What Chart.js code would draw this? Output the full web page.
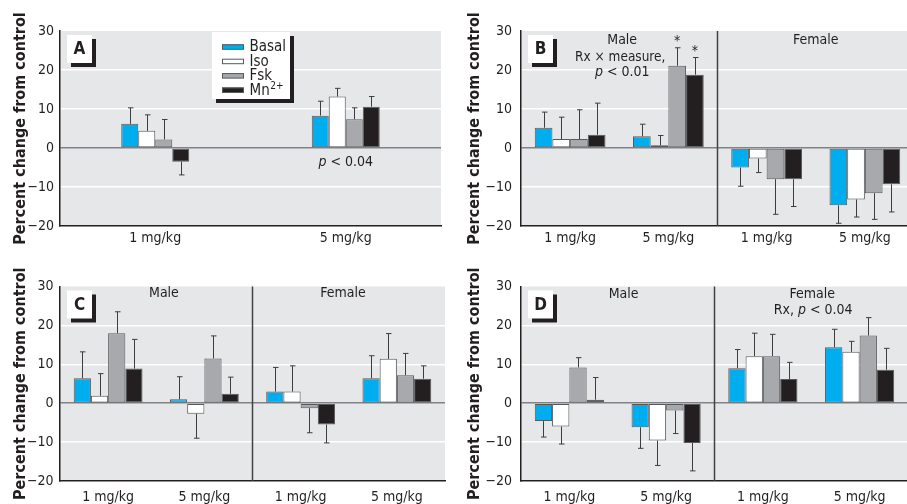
<!DOCTYPE html>
<html>
<head>
<meta charset="utf-8">
<script src="https://cdn.jsdelivr.net/npm/chart.js@4.4.1/dist/chart.umd.min.js"></script>
<style>
  html, body { margin: 0; padding: 0; background: #ffffff; overflow: hidden; width: 907px; height: 504px; }
  .panel { position: absolute; }
</style>
</head>
<body>
<div class="panel" style="left:0px;top:0px;"><canvas id="cA" width="454" height="252"></canvas></div>
<div class="panel" style="left:454px;top:0px;"><canvas id="cB" width="462" height="252"></canvas></div>
<div class="panel" style="left:0px;top:252px;"><canvas id="cC" width="454" height="252"></canvas></div>
<div class="panel" style="left:454px;top:252px;"><canvas id="cD" width="456" height="252"></canvas></div>
<script>
// ---------------- data ----------------
const SERIES = ['Basal', 'Iso', 'Fsk', 'Mn'];
const SERIES_SUP = ['', '', '', '2+'];
const DOSES = ['1 mg/kg', '5 mg/kg'];
const SEX_DOSES = ['1 mg/kg', '5 mg/kg', '1 mg/kg', '5 mg/kg'];
const Y_MIN = -20;
const Y_MAX = 30;
const Y_STEP = 10;
const Y_TITLE = 'Percent change from control';

// Panel A (1 mg/kg, 5 mg/kg)
const A_BASAL = [6.2, 8.3];
const A_ISO = [4.4, 13.2];
const A_FSK = [2.2, 7.4];
const A_MN = [-3.5, 10.6];
const A_BASAL_SEM = [4.1, 3.7];
const A_ISO_SEM = [4.1, 2.1];
const A_FSK_SEM = [5.1, 2.9];
const A_MN_SEM = [3.4, 2.6];

// Panel B (male 1, male 5, female 1, female 5)
const B_BASAL = [5.2, 3.0, -5.0, -14.7];
const B_ISO = [2.3, 0.7, -2.7, -13.2];
const B_FSK = [2.3, 21.1, -8.0, -11.6];
const B_MN = [3.4, 18.8, -8.0, -9.3];
const B_BASAL_SEM = [4.0, 3.1, 4.8, 4.6];
const B_ISO_SEM = [5.6, 2.5, 3.6, 4.5];
const B_FSK_SEM = [7.5, 4.6, 9.0, 6.7];
const B_MN_SEM = [8.1, 4.4, 7.0, 7.1];

// Panel C
const C_BASAL = [6.4, 1.0, 3.0, 6.4];
const C_ISO = [1.9, -2.7, 3.0, 11.4];
const C_FSK = [18.0, 11.5, -1.3, 7.2];
const C_MN = [8.9, 2.4, -5.5, 6.3];
const C_BASAL_SEM = [6.8, 5.8, 6.2, 5.8];
const C_ISO_SEM = [5.7, 6.3, 6.6, 6.5];
const C_FSK_SEM = [5.5, 5.8, 6.3, 5.6];
const C_MN_SEM = [7.5, 4.3, 4.7, 3.3];

// Panel D
const D_BASAL = [-4.6, -6.2, 9.0, 14.4];
const D_ISO = [-6.0, -9.6, 12.1, 13.2];
const D_FSK = [9.2, -1.9, 12.1, 17.4];
const D_MN = [0.9, -10.2, 6.2, 8.6];
const D_BASAL_SEM = [4.1, 5.4, 4.8, 4.6];
const D_ISO_SEM = [4.5, 6.4, 5.9, 2.7];
const D_FSK_SEM = [2.5, 5.9, 5.6, 4.6];
const D_MN_SEM = [5.7, 7.2, 4.3, 5.5];

// ---------------- styling ----------------
const FONT = "'DejaVu Sans Condensed', 'Liberation Sans Narrow', 'Arial Narrow', sans-serif";
const INK = '#231f20';
const FILL = ['#00aeef', '#ffffff', '#a7a9ac', '#231f20'];
const EDGE = '#58595b';
const BG = '#e6e7e8';

function drawRuns(ctx, runs, cx, cy, size) {
  ctx.save();
  ctx.textBaseline = 'middle';
  ctx.textAlign = 'left';
  ctx.fillStyle = INK;
  let total = 0;
  const widths = runs.map(r => {
    ctx.font = (r.i ? 'italic ' : '') + size + 'px ' + FONT;
    const w = ctx.measureText(r.t).width;
    total += w;
    return w;
  });
  let x = cx - total / 2;
  runs.forEach((r, k) => {
    ctx.font = (r.i ? 'italic ' : '') + size + 'px ' + FONT;
    ctx.fillText(r.t, x, cy);
    x += widths[k];
  });
  ctx.restore();
}

function shadowBox(ctx, x, y, w, h) {
  ctx.fillStyle = INK;
  ctx.fillRect(x + 4, y + 4, w, h);
  ctx.fillStyle = '#ffffff';
  ctx.fillRect(x, y, w, h);
}

const decor = {
  id: 'decor',
  beforeDraw(chart) {
    const {ctx, chartArea: a} = chart;
    ctx.save();
    ctx.fillStyle = BG;
    ctx.fillRect(a.left, a.top, a.right - a.left, a.bottom - a.top);
    ctx.restore();
  },
  afterDatasetsDraw(chart) {
    const {ctx} = chart;
    const ys = chart.scales.y;
    ctx.save();
    ctx.strokeStyle = '#3d3d3d';
    ctx.lineWidth = 1;
    chart.data.datasets.forEach((ds, i) => {
      const meta = chart.getDatasetMeta(i);
      meta.data.forEach((bar, j) => {
        const v = ds.data[j];
        const e = ds.sem[j];
        const tip = v >= 0 ? v + e : v - e;
        const yTip = ys.getPixelForValue(tip);
        const x = Math.round(bar.x) + 0.5;
        ctx.beginPath();
        ctx.moveTo(x, bar.y);
        ctx.lineTo(x, yTip);
        ctx.moveTo(x - 2.5, yTip);
        ctx.lineTo(x + 3, yTip);
        ctx.stroke();
      });
    });
    ctx.restore();
  },
  afterDraw(chart, args, o) {
    const {ctx, chartArea: a} = chart;
    const xs = chart.scales.x, ys = chart.scales.y;
    ctx.save();
    if (o.divider) {
      const dx = xs.getPixelForValue(1.5);
      ctx.strokeStyle = '#414042';
      ctx.lineWidth = 1.5;
      ctx.beginPath();
      ctx.moveTo(dx, a.top);
      ctx.lineTo(dx, a.bottom);
      ctx.stroke();
    }
    // panel letter
    const lx = a.left + 7, ly = a.top + 4;
    shadowBox(ctx, lx, ly, 25, 28);
    ctx.fillStyle = INK;
    ctx.font = 'bold 17px ' + FONT;
    ctx.textAlign = 'center';
    ctx.textBaseline = 'middle';
    ctx.fillText(o.letter, lx + 12.5, ly + 15);
    // legend
    if (o.legend) {
      const bx = a.left + 152, by = a.top + 1;
      shadowBox(ctx, bx, by, 78, 67);
      chart.data.datasets.forEach((ds, i) => {
        const base = by + 19.3 + 14.4 * i;
        ctx.fillStyle = FILL[i];
        ctx.fillRect(bx + 10, base - 7, 21.5, 5);
        ctx.strokeStyle = EDGE;
        ctx.lineWidth = 1;
        ctx.strokeRect(bx + 10.5, base - 6.5, 21, 4.5);
        ctx.fillStyle = INK;
        ctx.textAlign = 'left';
        ctx.textBaseline = 'alphabetic';
        ctx.font = '15px ' + FONT;
        ctx.fillText(SERIES[i], bx + 37.5, base);
        if (SERIES_SUP[i]) {
          const w = ctx.measureText(SERIES[i]).width;
          ctx.font = '10px ' + FONT;
          ctx.fillText(SERIES_SUP[i], bx + 37.5 + w + 0.5, base - 5.5);
        }
      });
    }
    // text annotations anchored to data coordinates
    (o.texts || []).forEach(t => {
      drawRuns(ctx, t.runs, xs.getPixelForValue(t.x), ys.getPixelForValue(t.y), t.size || 14);
    });
    // significance stars
    (o.stars || []).forEach(s => {
      const ds = chart.data.datasets[s[0]];
      const bar = chart.getDatasetMeta(s[0]).data[s[1]];
      const tip = ds.data[s[1]] + ds.sem[s[1]];
      ctx.fillStyle = INK;
      ctx.font = '14px ' + FONT;
      ctx.textAlign = 'center';
      ctx.textBaseline = 'middle';
      ctx.fillText('*', bar.x, ys.getPixelForValue(tip) - 6);
    });
    ctx.restore();
  }
};

function buildChart(id, labels, series, sems, cfg, decorOpts) {
  const datasets = series.map((vals, k) => ({
    label: SERIES[k] + SERIES_SUP[k],
    data: vals,
    sem: sems[k],
    backgroundColor: FILL[k],
    borderColor: EDGE,
    borderWidth: 1,
    borderSkipped: false,
    categoryPercentage: cfg.catPct,
    barPercentage: 1.0
  }));
  return new Chart(document.getElementById(id), {
    type: 'bar',
    data: {labels: labels, datasets: datasets},
    options: {
      responsive: false,
      animation: false,
      devicePixelRatio: 1,
      layout: {padding: {left: 0, top: cfg.top, right: cfg.padRight, bottom: 0}},
      plugins: {
        legend: {display: false},
        tooltip: {enabled: false},
        decor: decorOpts
      },
      scales: {
        x: {
          grid: {display: false, drawTicks: false},
          border: {display: true, color: INK, width: 1.5},
          ticks: {color: INK, font: {family: FONT, size: 14}, padding: cfg.xPad, maxRotation: 0, autoSkip: false},
          afterFit(s) { s.height = cfg.xH; }
        },
        y: {
          min: Y_MIN,
          max: Y_MAX,
          ticks: {
            stepSize: Y_STEP,
            color: INK,
            font: {family: FONT, size: 14},
            padding: cfg.yPad,
            callback: v => (v < 0 ? '\u2212' + Math.abs(v) : String(v))
          },
          grid: {
            drawTicks: false,
            lineWidth: 1.5,
            color: c => {
              const v = c.tick ? c.tick.value : null;
              if (v === 0) return '#808285';
              if (v === Y_MAX || v === Y_MIN) return 'rgba(0,0,0,0)';
              return '#ffffff';
            }
          },
          border: {display: true, color: INK, width: 1.5},
          title: {
            display: true,
            text: Y_TITLE,
            color: INK,
            font: {family: FONT, size: 16, weight: 'bold'},
            padding: {top: 11.5, bottom: 0}
          },
          afterFit(s) { s.width = cfg.left; }
        }
      }
    },
    plugins: [decor]
  });
}

const P = (t) => [{t: t}];
const PV = (rest) => [{t: 'p', i: true}, {t: rest}];

buildChart('cA', DOSES,
  [A_BASAL, A_ISO, A_FSK, A_MN],
  [A_BASAL_SEM, A_ISO_SEM, A_FSK_SEM, A_MN_SEM],
  {catPct: 0.357, top: 31, padRight: 13, left: 60, xH: 26, xPad: 4, yPad: 6},
  {letter: 'A', legend: true, divider: false,
   texts: [{x: 1, y: -3.6, runs: PV(' < 0.04')}]});

buildChart('cB', SEX_DOSES,
  [B_BASAL, B_ISO, B_FSK, B_MN],
  [B_BASAL_SEM, B_ISO_SEM, B_FSK_SEM, B_MN_SEM],
  {catPct: 0.72, top: 31, padRight: 2, left: 67, xH: 26, xPad: 4, yPad: 9},
  {letter: 'B', legend: false, divider: true,
   texts: [
     {x: 0.53, y: 27.5, runs: P('Male')},
     {x: 0.51, y: 23.2, runs: P('Rx \u00d7 measure,'), size: 13.5},
     {x: 0.53, y: 19.3, runs: PV(' < 0.01')},
     {x: 2.5, y: 27.5, runs: P('Female')}
   ],
   stars: [[2, 1], [3, 1]]});

buildChart('cC', SEX_DOSES,
  [C_BASAL, C_ISO, C_FSK, C_MN],
  [C_BASAL_SEM, C_ISO_SEM, C_FSK_SEM, C_MN_SEM],
  {catPct: 0.715, top: 34.5, padRight: 9, left: 60, xH: 23, xPad: 8.4, yPad: 6.5},
  {letter: 'C', legend: false, divider: true,
   texts: [
     {x: 0.58, y: 28.3, runs: P('Male')},
     {x: 2.44, y: 28.3, runs: P('Female')}
   ]});

buildChart('cD', SEX_DOSES,
  [D_BASAL, D_ISO, D_FSK, D_MN],
  [D_BASAL_SEM, D_ISO_SEM, D_FSK_SEM, D_MN_SEM],
  {catPct: 0.715, top: 34.5, padRight: 2, left: 67, xH: 23, xPad: 8.4, yPad: 9},
  {letter: 'D', legend: false, divider: true,
   texts: [
     {x: 0.56, y: 28.1, runs: P('Male')},
     {x: 2.51, y: 28.1, runs: P('Female')},
     {x: 2.52, y: 23.9, runs: [{t: 'Rx, '}, {t: 'p', i: true}, {t: ' < 0.04'}]}
   ]});
</script>
</body>
</html>
